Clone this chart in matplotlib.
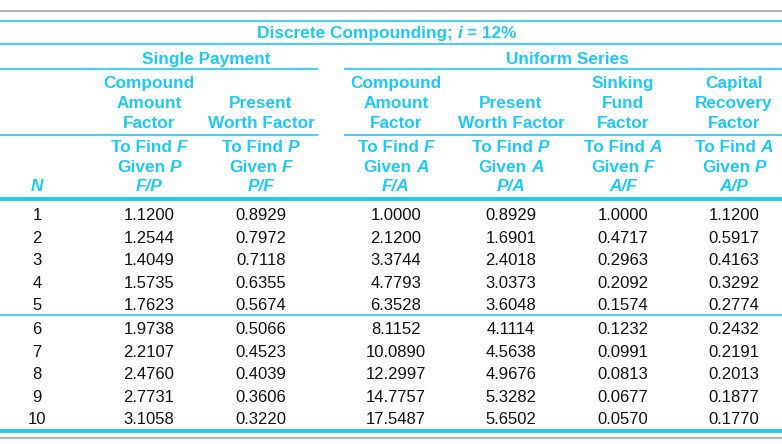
import matplotlib
matplotlib.use("Agg")
import matplotlib.pyplot as plt
from matplotlib.font_manager import FontProperties

# table values (i = 12%)
periods = [1, 2, 3, 4, 5, 6, 7, 8, 9, 10]
f_p = [1.1200, 1.2544, 1.4049, 1.5735, 1.7623, 1.9738, 2.2107, 2.4760, 2.7731, 3.1058]
p_f = [0.8929, 0.7972, 0.7118, 0.6355, 0.5674, 0.5066, 0.4523, 0.4039, 0.3606, 0.3220]
f_a = [1.0000, 2.1200, 3.3744, 4.7793, 6.3528, 8.1152, 10.0890, 12.2997, 14.7757, 17.5487]
p_a = [0.8929, 1.6901, 2.4018, 3.0373, 3.6048, 4.1114, 4.5638, 4.9676, 5.3282, 5.6502]
a_f = [1.0000, 0.4717, 0.2963, 0.2092, 0.1574, 0.1232, 0.0991, 0.0813, 0.0677, 0.0570]
a_p = [1.1200, 0.5917, 0.4163, 0.3292, 0.2774, 0.2432, 0.2191, 0.2013, 0.1877, 0.1770]

title = "Discrete Compounding; *i* = 12%"
groups = ["Single Payment", "Uniform Series"]
factor_names = [["Compound", "Amount", "Factor"], ["Present", "Worth Factor"],
                ["Compound", "Amount", "Factor"], ["Present", "Worth Factor"],
                ["Sinking", "Fund", "Factor"], ["Capital", "Recovery", "Factor"]]
find_lines = [["To Find *F*", "Given *P*", "*F/P*"], ["To Find *P*", "Given *F*", "*P/F*"],
              ["To Find *F*", "Given *A*", "*F/A*"], ["To Find *P*", "Given *A*", "*P/A*"],
              ["To Find *A*", "Given *F*", "*A/F*"], ["To Find *A*", "Given *P*", "*A/P*"]]

CYAN = "#20C8F6"
GRAY = "#B5B5B5"
W, H = 782, 444

fig = plt.figure(figsize=(W / 100, H / 100), dpi=100)
ax = fig.add_axes([0, 0, 1, 1])
ax.set_xlim(0, W)
ax.set_ylim(H, 0)
ax.axis("off")
fig.canvas.draw()
rend = fig.canvas.get_renderer()

HEAD = 12.4
bold = FontProperties(family="Liberation Sans", weight="bold", size=HEAD)
bold_it = FontProperties(family="Liberation Sans", weight="bold", style="italic", size=HEAD)
body = FontProperties(family="Liberation Sans", size=12)


def width(s, fp):
    t = ax.text(0, 0, s, fontproperties=fp)
    w = t.get_window_extent(rend).width
    t.remove()
    return w


space_w = width("a a", bold) - width("aa", bold)


def mixed(x, yc, line, color=CYAN):
    # *...* marks bold italic pieces; yc is the vertical centre of the caps
    pieces = []
    for k, seg in enumerate(line.split("*")):
        if not seg:
            continue
        fp = bold_it if k % 2 else bold
        lead = len(seg) - len(seg.lstrip(" "))
        trail = len(seg) - len(seg.rstrip(" "))
        core = seg.strip(" ")
        pieces.append((core, fp, lead * space_w, width(core, fp), trail * space_w))
    total = sum(a + b + c for _, _, a, b, c in pieces)
    cx = x - total / 2
    base = yc + 0.36 * HEAD * 100 / 72
    for core, fp, a, b, c in pieces:
        cx += a
        ax.text(cx, base, core, fontproperties=fp, color=color, ha="left", va="baseline")
        cx += b + c


def hline(y, x0, x1, lw, color=CYAN):
    ax.plot([x0, x1], [y, y], color=color, lw=lw, solid_capstyle="butt")


# rules
hline(11, 0, W, 1.6, GRAY)
hline(21, 0, W, 1.2)
hline(44, 0, W, 1.2)
for y in (69, 135):
    hline(y, 0, 318, 1.2)
    hline(y, 344, W, 1.2)
hline(199, 0, W, 2.8)
hline(315, 0, W, 1.2)
hline(431, 0, W, 2.8)
hline(438, 0, W, 1.6, GRAY)

col_x = [149, 261, 396, 511, 623, 734]
n_x = 37

mixed(387, 32, title)
mixed((col_x[0] + col_x[1]) / 2 + 1, 58, groups[0])
mixed((col_x[2] + col_x[5]) / 2 + 2, 58, groups[1])

for cx, names, finds in zip(col_x, factor_names, find_lines):
    for k, s in enumerate(reversed(names)):
        mixed(cx, 122 - 20 * k, s)
    for k, s in enumerate(finds):
        mixed(cx, 146 + 19.5 * k, s)
mixed(n_x, 185, "*N*")

# body rows
row_y = [214 + 22.5 * i for i in range(5)] + [328 + 22.5 * i for i in range(5)]
cols = [f_p, p_f, f_a, p_a, a_f, a_p]
for i, n in enumerate(periods):
    base = row_y[i] + 0.36 * 12 * 100 / 72
    ax.text(n_x, base, str(n), fontproperties=body, color="#111111", ha="center", va="baseline")
    for cx, vals in zip(col_x, cols):
        ax.text(cx, base, f"{vals[i]:.4f}", fontproperties=body, color="#111111",
                ha="center", va="baseline")

fig.savefig("out.png", dpi=100, facecolor="white")
